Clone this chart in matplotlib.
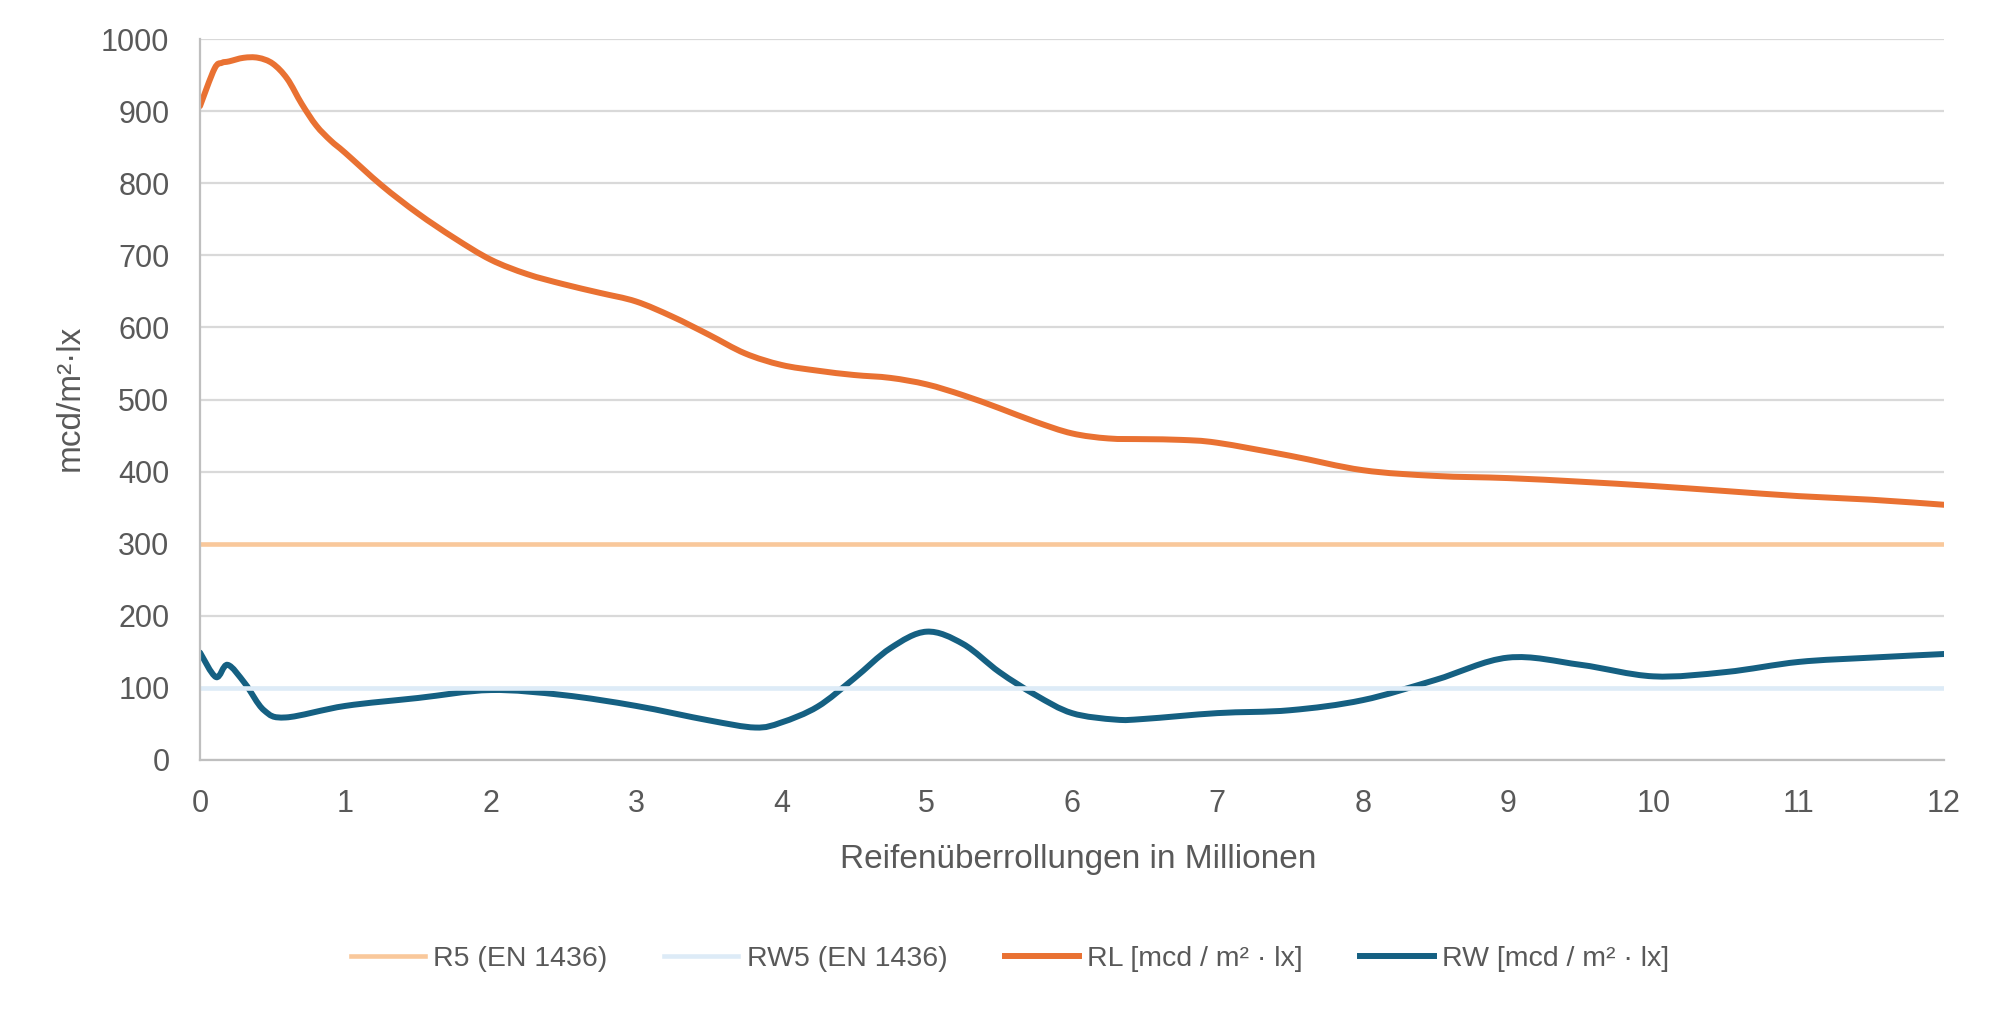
import matplotlib
matplotlib.use("Agg")
import matplotlib.pyplot as plt
from matplotlib.path import Path
from matplotlib.patches import PathPatch
from matplotlib.lines import Line2D

plt.rcParams['font.family'] = ['Liberation Sans', 'DejaVu Sans']

# Reifenüberrollungen in Millionen
rl_x = [0, 0.1, 0.15, 0.2, 0.3, 0.4, 0.5, 0.6, 0.7, 0.8, 0.9, 1.0, 1.25, 1.5, 1.75,
        2.0, 2.25, 2.5, 2.75, 3.0, 3.25, 3.5, 3.75, 4.0, 4.25, 4.5, 4.75, 5.0, 5.25,
        5.5, 5.75, 6.0, 6.25, 6.5, 6.75, 7.0, 7.5, 8.0, 8.5, 9.0, 9.5, 10.0, 10.5,
        11.0, 11.5, 12.0]
rl_y = [907, 959, 967, 969, 974, 974, 966, 945, 910, 880, 859, 842, 797, 758, 724,
        694, 674, 660, 648, 636, 615, 590, 564, 548, 540, 534, 530, 521, 506,
        488, 469, 453, 446, 445, 444, 440, 422, 402, 394, 391, 386, 380, 373,
        366, 361, 354]

rw_x = [0, 0.11, 0.19, 0.31, 0.44, 0.59, 1.0, 1.5, 2.0, 2.5, 3.0, 3.5, 3.82, 4.0,
        4.25, 4.5, 4.75, 5.0, 5.25, 5.5, 5.75, 6.0, 6.3, 6.5, 7.0, 7.5, 8.0, 8.5,
        9.0, 9.5, 10.0, 10.5, 11.0, 11.5, 12.0]
rw_y = [149, 115, 132, 106, 69, 59, 75, 86, 97, 90, 75, 55, 45, 52,
        74, 113, 155, 178, 161, 122, 90, 65, 56, 57, 65, 69, 83, 111,
        142, 132, 116, 122, 136, 142, 147]

ref_x = [0, 12]
r5 = [300, 300]
rw5 = [100, 100]

labels = ['R5 (EN 1436)', 'RW5 (EN 1436)', 'RL [mcd / m² · lx]', 'RW [mcd / m² · lx]']
colors = ['#F9C89B', '#DDEBF7', '#E97132', '#156082']

text_color = '#595959'


def smooth_path(xs, ys):
    # Excel-like smoothed line: Catmull-Rom segments as cubic Bezier curves
    pts = list(zip(xs, ys))
    verts = [pts[0]]
    codes = [Path.MOVETO]
    n = len(pts)
    for i in range(n - 1):
        p0 = pts[max(i - 1, 0)]
        p1 = pts[i]
        p2 = pts[i + 1]
        p3 = pts[min(i + 2, n - 1)]
        c1 = (p1[0] + (p2[0] - p0[0]) / 6, p1[1] + (p2[1] - p0[1]) / 6)
        c2 = (p2[0] - (p3[0] - p1[0]) / 6, p2[1] - (p3[1] - p1[1]) / 6)
        verts += [c1, c2, p2]
        codes += [Path.CURVE4] * 3
    return Path(verts, codes)


fig = plt.figure(figsize=(20, 10.09), dpi=100)
ax = fig.add_axes([0.1, 0.2468, 0.872, 0.7145])

ax.plot(ref_x, r5, color=colors[0], lw=3.3, solid_capstyle='butt')
ax.plot(ref_x, rw5, color=colors[1], lw=3.3, solid_capstyle='butt')
for xs, ys, c in [(rl_x, rl_y, colors[2]), (rw_x, rw_y, colors[3])]:
    ax.add_patch(PathPatch(smooth_path(xs, ys), fill=False, edgecolor=c, lw=4.3,
                           joinstyle='round', capstyle='round'))

ax.set_xlim(0, 12)
ax.set_ylim(0, 1000)
ax.set_xticks(range(0, 13))
ax.set_yticks(range(0, 1001, 100))
ax.grid(axis='y', color='#D9D9D9', lw=1.6)
ax.set_axisbelow(True)
for side in ['top', 'right']:
    ax.spines[side].set_visible(False)
for side in ['left', 'bottom']:
    ax.spines[side].set_color('#BFBFBF')
    ax.spines[side].set_linewidth(1.6)
ax.tick_params(length=0, labelsize=22, labelcolor=text_color)
ax.tick_params(axis='y', pad=22)
ax.tick_params(axis='x', pad=21)

fig.text(0.035, 0.6056, 'mcd/m²·lx', rotation=90, ha='center', va='center',
         fontsize=24, color=text_color)
fig.text(0.539, 0.148, 'Reifenüberrollungen in Millionen', ha='center', va='center',
         fontsize=24, color=text_color)

handles = [Line2D([], [], color=colors[0], lw=3.3),
           Line2D([], [], color=colors[1], lw=3.3),
           Line2D([], [], color=colors[2], lw=4.3),
           Line2D([], [], color=colors[3], lw=4.3)]
fig.legend(handles, labels, loc='center', bbox_to_anchor=(0.505, 0.0495), ncol=4,
           frameon=False, fontsize=20.5, labelcolor=text_color, handlelength=2.6,
           handletextpad=0.3, columnspacing=2.0)

fig.savefig('out.png', dpi=100, facecolor='white')
